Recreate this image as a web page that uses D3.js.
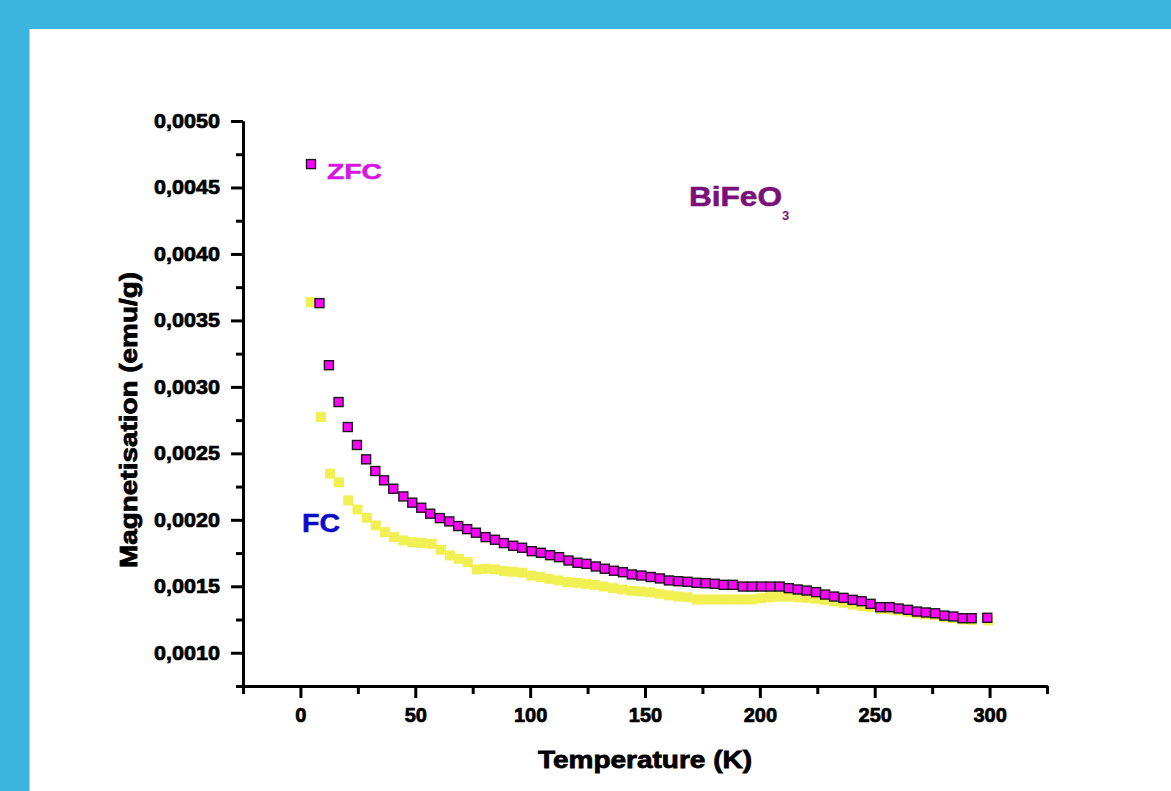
<!DOCTYPE html>
<html>
<head>
<meta charset="utf-8">
<script src="https://cdn.jsdelivr.net/npm/d3@7"></script>
<style>
  body { margin: 0; background: #3bb4e0; }
  .chart { width: 1171px; height: 791px; }
  text { font-family: "Liberation Sans", Arial, sans-serif; font-weight: bold; }
</style>
</head>
<body>
<div class="chart"></div>
<script>
// ZFC curve (temperature in K, magnetisation in emu/g)
var zfcTemp = [4.6, 8.3, 12.4, 16.6, 20.6, 24.6, 28.6, 32.6, 36.4, 40.4, 44.8, 48.7, 52.6, 56.5, 60.7, 64.8, 68.7, 72.6, 76.4, 80.6,
  84.7, 88.6, 92.6, 96.5, 100.7, 104.7, 108.7, 112.6, 116.7, 120.6, 124.5, 128.6, 132.5, 136.5, 140.4, 144.3, 148.4, 152.5, 156.5, 160.4,
  164.5, 168.5, 172.4, 176.5, 180.4, 184.2, 188.3, 192.6, 196.6, 200.6, 204.5, 208.6, 212.6, 216.5, 220.4, 224.5, 228.4, 232.3, 236.4, 240.4,
  244.3, 248.2, 252.4, 256.5, 260.4, 264.5, 268.4, 272.3, 276.3, 280.3, 284.2, 288.2, 292.2, 299.0];
var zfcMag = [0.004676, 0.003630, 0.003163, 0.002886, 0.002698, 0.002563, 0.002455, 0.002367, 0.002297, 0.002234, 0.002176, 0.002129, 0.002091, 0.002046, 0.002013, 0.001988, 0.001953, 0.001930, 0.001903, 0.001870,
  0.001850, 0.001825, 0.001805, 0.001790, 0.001764, 0.001752, 0.001734, 0.001719, 0.001694, 0.001677, 0.001669, 0.001649, 0.001632, 0.001617, 0.001606, 0.001589, 0.001581, 0.001570, 0.001559, 0.001544,
  0.001538, 0.001534, 0.001526, 0.001523, 0.001519, 0.001511, 0.001511, 0.001498, 0.001498, 0.001498, 0.001498, 0.001498, 0.001486, 0.001476, 0.001468, 0.001456, 0.001438, 0.001423, 0.001413, 0.001398,
  0.001388, 0.001368, 0.001343, 0.001343, 0.001333, 0.001323, 0.001310, 0.001303, 0.001297, 0.001280, 0.001273, 0.001260, 0.001260, 0.001263];

// FC curve
var fcTemp = [4.6, 8.9, 12.9, 16.8, 20.8, 24.8, 28.9, 32.8, 36.8, 40.7, 44.8, 48.7, 52.8, 57.1, 61.2, 65.1, 69.0, 72.8, 76.7, 80.6,
  84.7, 88.6, 92.6, 96.5, 100.6, 104.5, 108.3, 112.3, 116.3, 120.2, 124.1, 128.1, 132.0, 136.1, 140.0, 144.1, 148.0, 152.2, 156.3, 160.4,
  164.5, 168.5, 172.4, 176.5, 180.4, 184.2, 188.3, 192.6, 196.6, 200.6, 204.5, 208.6, 212.6, 216.5, 220.4, 224.5, 228.4, 232.3, 236.4, 240.4,
  244.3, 248.2, 252.4, 256.5, 260.4, 264.5, 268.4, 272.3, 276.3, 280.3, 284.2, 288.2, 292.2, 299.5];
var fcMag = [0.003637, 0.002773, 0.002347, 0.002282, 0.002146, 0.002078, 0.002016, 0.001958, 0.001907, 0.001870, 0.001845, 0.001832, 0.001825, 0.001820, 0.001775, 0.001732, 0.001707, 0.001682, 0.001627, 0.001632,
  0.001627, 0.001614, 0.001609, 0.001602, 0.001581, 0.001569, 0.001556, 0.001544, 0.001531, 0.001526, 0.001519, 0.001511, 0.001498, 0.001486, 0.001476, 0.001466, 0.001461, 0.001455, 0.001444, 0.001432,
  0.001423, 0.001418, 0.001401, 0.001401, 0.001401, 0.001401, 0.001401, 0.001401, 0.001401, 0.001410, 0.001418, 0.001423, 0.001423, 0.001418, 0.001413, 0.001406, 0.001398, 0.001386, 0.001376, 0.001363,
  0.001352, 0.001345, 0.001330, 0.001325, 0.001318, 0.001308, 0.001296, 0.001288, 0.001282, 0.001268, 0.001262, 0.001250, 0.001246, 0.001243];

// ticks
var xMajorTicks = [0, 50, 100, 150, 200, 250, 300];
var xMinorTicks = [-25, 25, 75, 125, 175, 225, 275, 325];
var yMajorTicks = [0.0010, 0.0015, 0.0020, 0.0025, 0.0030, 0.0035, 0.0040, 0.0045, 0.0050];
var yMinorTicks = [0.00075, 0.00125, 0.00175, 0.00225, 0.00275, 0.00325, 0.00375, 0.00425, 0.00475];

var svgWidth = 1171;
var svgHeight = 791;

var margin = { top: 121, right: 124, bottom: 105, left: 243 };
var width = svgWidth - margin.left - margin.right;
var height = svgHeight - margin.top - margin.bottom;

var svg = d3.select(".chart")
  .append("svg")
  .attr("width", svgWidth)
  .attr("height", svgHeight);

// blue frame + white page
svg.append("rect")
  .attr("width", svgWidth)
  .attr("height", svgHeight)
  .attr("fill", "#3bb4e0");
svg.append("rect")
  .attr("x", 29)
  .attr("y", 29)
  .attr("width", svgWidth - 29)
  .attr("height", svgHeight - 29)
  .attr("fill", "#ffffff");
svg.append("line")
  .attr("x1", 29.5).attr("x2", 29.5)
  .attr("y1", 29).attr("y2", svgHeight)
  .attr("stroke", "#8fd6f2");

var chartGroup = svg.append("g")
  .attr("transform", `translate(${margin.left}, ${margin.top})`);

var xScale = d3.scaleLinear().domain([-25, 325]).range([0, width]);
var yScale = d3.scaleLinear().domain([0.00075, 0.0050]).range([height, 0]);

var commaFmt = function(d) { return d3.format(".4f")(d).replace(".", ","); };

// minor ticks first, then majors with labels
chartGroup.append("g")
  .attr("transform", `translate(0, ${height})`)
  .call(d3.axisBottom(xScale).tickValues(xMinorTicks).tickSize(8).tickSizeOuter(0).tickFormat(""));
chartGroup.append("g")
  .attr("transform", `translate(0, ${height})`)
  .call(d3.axisBottom(xScale).tickValues(xMajorTicks).tickSize(12).tickSizeOuter(0).tickPadding(10));

chartGroup.append("g")
  .call(d3.axisLeft(yScale).tickValues(yMinorTicks).tickSize(7).tickSizeOuter(0).tickFormat(""));
var yAxis = chartGroup.append("g")
  .call(d3.axisLeft(yScale).tickValues(yMajorTicks).tickSize(12).tickSizeOuter(0).tickPadding(11).tickFormat(commaFmt));

yAxis.selectAll("text")
  .attr("textLength", 66)
  .attr("lengthAdjust", "spacingAndGlyphs");

chartGroup.selectAll(".domain")
  .attr("stroke", "#000")
  .attr("stroke-width", 3);
chartGroup.selectAll(".tick line")
  .attr("stroke", "#000")
  .attr("stroke-width", 3);
chartGroup.selectAll(".tick text")
  .attr("fill", "#000")
  .attr("stroke", "#000")
  .attr("stroke-width", 0.7)
  .style("font-size", "20px")
  .style("font-family", "'Liberation Sans', Arial, sans-serif")
  .style("font-weight", "bold");

var fcData = fcTemp.map(function(t, i) { return { t: t, m: fcMag[i] }; });
var zfcData = zfcTemp.map(function(t, i) { return { t: t, m: zfcMag[i] }; });

// FC squares (yellow), drawn below
chartGroup.append("g").selectAll("rect")
  .data(fcData)
  .enter()
  .append("rect")
  .attr("x", d => xScale(d.t) - 5)
  .attr("y", d => yScale(d.m) - 5)
  .attr("width", 10)
  .attr("height", 10)
  .attr("fill", "#f0f052");

// ZFC squares (magenta, black edge)
chartGroup.append("g").selectAll("rect")
  .data(zfcData)
  .enter()
  .append("rect")
  .attr("x", d => xScale(d.t) - 4.5)
  .attr("y", d => yScale(d.m) - 4.5)
  .attr("width", 9)
  .attr("height", 9)
  .attr("fill", "#ff00ff")
  .attr("stroke", "#1a1a1a")
  .attr("stroke-width", 1.4);

// axis titles
svg.append("text")
  .attr("x", margin.left + width / 2)
  .attr("y", 768)
  .attr("text-anchor", "middle")
  .attr("textLength", 214)
  .attr("lengthAdjust", "spacingAndGlyphs")
  .attr("stroke", "#000")
  .attr("stroke-width", 0.8)
  .style("font-size", "24px")
  .text("Temperature (K)");

svg.append("text")
  .attr("transform", "rotate(-90)")
  .attr("x", -420)
  .attr("y", 137)
  .attr("text-anchor", "middle")
  .attr("textLength", 296)
  .attr("lengthAdjust", "spacingAndGlyphs")
  .attr("stroke", "#000")
  .attr("stroke-width", 0.8)
  .style("font-size", "24px")
  .text("Magnetisation (emu/g)");

// curve labels
svg.append("text")
  .attr("x", 327)
  .attr("y", 179)
  .attr("textLength", 55)
  .attr("lengthAdjust", "spacingAndGlyphs")
  .attr("fill", "#e010e6")
  .attr("stroke", "#c020e0")
  .attr("stroke-width", 0.5)
  .style("font-size", "22px")
  .text("ZFC");

svg.append("text")
  .attr("x", 302)
  .attr("y", 532)
  .attr("textLength", 38)
  .attr("lengthAdjust", "spacingAndGlyphs")
  .attr("fill", "#0a0acc")
  .attr("stroke", "#0a0acc")
  .attr("stroke-width", 0.5)
  .style("font-size", "25px")
  .text("FC");

svg.append("text")
  .attr("x", 689)
  .attr("y", 206)
  .attr("textLength", 93)
  .attr("lengthAdjust", "spacingAndGlyphs")
  .attr("fill", "#7a107a")
  .attr("stroke", "#7a107a")
  .attr("stroke-width", 0.6)
  .style("font-size", "28px")
  .text("BiFeO");
svg.append("text")
  .attr("x", 782)
  .attr("y", 220)
  .attr("fill", "#7a107a")
  .style("font-size", "13px")
  .text("3");
</script>
</body>
</html>
